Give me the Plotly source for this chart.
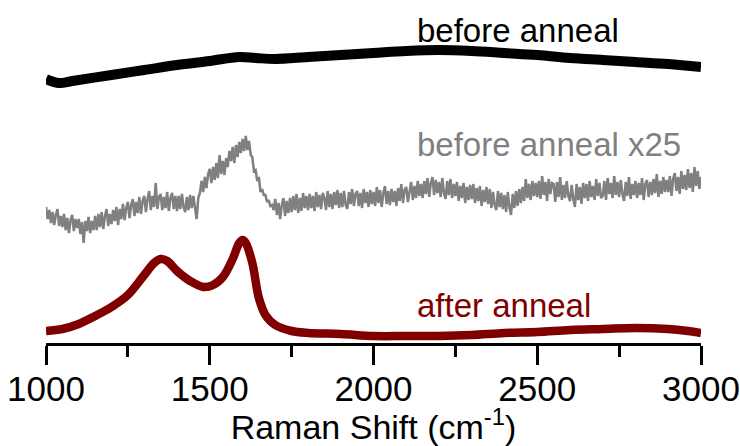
import plotly.graph_objects as go

# Raman spectra (offset for display, arbitrary intensity units)
wn_before = [1000, 1040, 1080, 1200, 1300, 1400, 1500, 1590, 1640, 1700, 1800, 1900,
             2000, 2100, 2200, 2300, 2400, 2500, 2600, 2700, 2800, 2900, 3000]
int_before = [264, 260, 262, 268, 273, 278, 282, 286, 285, 284, 286, 288,
              290, 292, 293, 292, 290, 288, 285, 283, 281, 279, 276]

wn_x25 = list(range(1000, 3001, 5))
int_x25 = [
    136, 124, 133, 120, 131, 118, 128, 134, 117, 127,
    116, 129, 113, 125, 110, 123, 128, 112, 124, 115,
    124, 109, 121, 100, 122, 112, 126, 110, 122, 113,
    127, 113, 129, 116, 131, 114, 127, 134, 117, 129,
    119, 133, 122, 136, 118, 134, 124, 139, 123, 135,
    141, 125, 138, 144, 127, 141, 130, 146, 129, 142,
    147, 131, 144, 152, 133, 147, 136, 160, 134, 146,
    149, 133, 146, 135, 151, 132, 145, 150, 134, 147,
    132, 147, 134, 149, 136, 131, 146, 133, 148, 135,
    147, 133, 124, 145, 150, 162, 151, 166, 155, 169,
    174, 160, 176, 163, 180, 165, 188, 169, 182, 168,
    185, 176, 192, 182, 196, 180, 198, 186, 201, 190,
    204, 192, 207, 193, 202, 188, 186, 172, 173, 162,
    166, 151, 154, 148, 148, 141, 143, 137, 138, 133,
    144, 128, 140, 124, 138, 145, 127, 142, 130, 145,
    131, 147, 133, 149, 130, 145, 132, 150, 135, 147,
    133, 149, 135, 147, 132, 151, 136, 148, 134, 150,
    145, 133, 152, 136, 149, 134, 151, 138, 153, 135,
    150, 136, 152, 138, 134, 151, 139, 154, 137, 149,
    152, 137, 150, 135, 154, 140, 151, 136, 153, 139,
    151, 137, 156, 140, 153, 136, 150, 157, 139, 152,
    138, 154, 141, 152, 137, 155, 142, 159, 140, 153,
    156, 141, 154, 161, 143, 157, 145, 162, 147, 159,
    145, 162, 149, 165, 146, 160, 166, 148, 163, 150,
    161, 146, 165, 150, 144, 162, 148, 164, 145, 159,
    147, 161, 142, 157, 145, 160, 140, 156, 143, 158,
    144, 159, 140, 155, 142, 157, 137, 153, 141, 156,
    139, 154, 135, 151, 138, 133, 152, 136, 150, 134,
    148, 131, 151, 136, 128, 149, 135, 152, 137, 154,
    140, 156, 142, 164, 145, 159, 143, 162, 147, 160,
    146, 162, 144, 167, 148, 161, 142, 164, 149, 160,
    159, 141, 161, 146, 166, 143, 158, 145, 162, 147,
    142, 158, 144, 136, 159, 143, 156, 139, 160, 145,
    159, 142, 162, 146, 157, 143, 164, 147, 160, 145,
    147, 162, 143, 165, 149, 160, 145, 167, 148, 161,
    146, 163, 149, 142, 161, 147, 166, 144, 159, 148,
    162, 145, 160, 148, 165, 143, 159, 163, 146, 161,
    148, 164, 150, 169, 146, 162, 149, 166, 151, 163,
    151, 167, 147, 164, 170, 152, 166, 149, 172, 154,
    168, 153, 174, 155, 170, 151, 176, 157, 172, 154,
    166,
]

wn_after = [1000, 1050, 1100, 1150, 1200, 1250, 1300, 1330, 1350, 1370, 1400, 1440,
            1480, 1510, 1540, 1570, 1590, 1600, 1610, 1630, 1650, 1670, 1700, 1750,
            1800, 1900, 2000, 2100, 2200, 2300, 2400, 2500, 2600, 2700, 2800, 2900,
            2960, 3000]
int_after = [12, 14, 19, 27, 36, 48, 68, 80, 84, 82, 72, 62,
             56, 58, 66, 84, 100, 103, 100, 80, 45, 28, 18, 12,
             10, 9, 7, 7, 7, 8, 10, 11, 13, 14, 15, 14,
             12, 10]

labels = ["before anneal", "before anneal x25", "after anneal"]
label_y = [313, 199, 38]
colors = ["#000000", "#808080", "#800000"]

font_family = "Liberation Sans, Arial"

fig = go.Figure()
fig.add_trace(go.Scatter(x=wn_before, y=int_before, mode="lines",
                         line=dict(color=colors[0], width=10, shape="spline")))
fig.add_trace(go.Scatter(x=wn_x25, y=int_x25, mode="lines",
                         line=dict(color=colors[1], width=2.5)))
fig.add_trace(go.Scatter(x=wn_after, y=int_after, mode="lines",
                         line=dict(color=colors[2], width=8.5, shape="spline")))

for text, yv, col in zip(labels, label_y, colors):
    fig.add_annotation(x=2127, y=yv, xref="x", yref="y", text=text, showarrow=False,
                       xanchor="left", yanchor="middle",
                       font=dict(family=font_family, size=33, color=col))

fig.update_layout(
    width=740, height=446,
    margin=dict(l=46, r=39, t=0, b=103),
    paper_bgcolor="white", plot_bgcolor="white",
    showlegend=False,
    font=dict(family=font_family, color="black"),
)
fig.update_xaxes(
    range=[1000, 3000], showgrid=False, zeroline=False,
    showline=True, linecolor="black", linewidth=3,
    ticks="outside", ticklen=19, tickwidth=3, tickcolor="black",
    tickvals=[1000, 1500, 2000, 2500, 3000],
    tickfont=dict(family=font_family, size=35, color="black"),
    ticklabelstandoff=-6,
    minor=dict(ticks="outside", ticklen=11, tickwidth=3, tickcolor="black", dtick=250),
    title=dict(text="Raman Shift (cm<sup>-1</sup>)",
               font=dict(family=font_family, size=34, color="black"), standoff=8),
)
fig.update_yaxes(range=[0, 343], visible=False)

fig.write_html("out.html")
